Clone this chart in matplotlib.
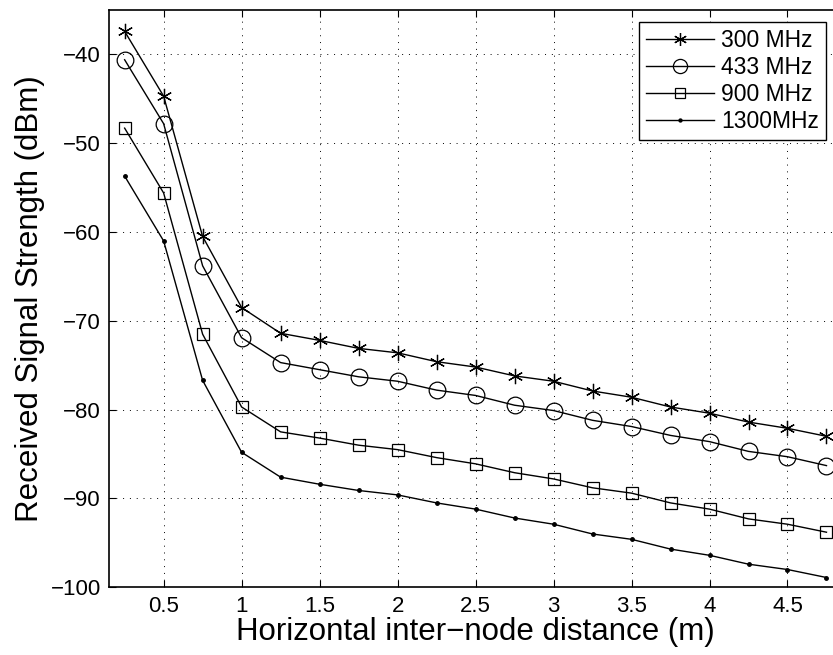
import matplotlib
matplotlib.use("Agg")
import matplotlib.pyplot as plt

plt.rcParams["font.family"] = ["Liberation Sans", "DejaVu Sans"]

distance = [0.25, 0.5, 0.75, 1.0, 1.25, 1.5, 1.75, 2.0, 2.25, 2.5,
            2.75, 3.0, 3.25, 3.5, 3.75, 4.0, 4.25, 4.5, 4.75]
rss_300 = [-37.4, -44.7, -60.5, -68.5, -71.4, -72.2, -73.1, -73.6, -74.6, -75.2,
           -76.2, -76.8, -77.9, -78.6, -79.7, -80.4, -81.4, -82.1, -83.0]
rss_433 = [-40.6, -47.8, -63.8, -71.9, -74.7, -75.5, -76.3, -76.8, -77.8, -78.4,
           -79.5, -80.1, -81.2, -81.9, -82.9, -83.6, -84.7, -85.3, -86.3]
rss_900 = [-48.3, -55.6, -71.5, -79.7, -82.5, -83.2, -84.0, -84.5, -85.4, -86.1,
           -87.1, -87.8, -88.8, -89.4, -90.5, -91.2, -92.3, -92.9, -93.8]
rss_1300 = [-53.7, -61.0, -76.7, -84.8, -87.6, -88.4, -89.1, -89.6, -90.5, -91.2,
            -92.2, -92.9, -94.0, -94.6, -95.7, -96.4, -97.4, -98.0, -98.9]
labels = ["300 MHz", "433 MHz", "900 MHz", "1300MHz"]
x_ticks = [0.5, 1, 1.5, 2, 2.5, 3, 3.5, 4, 4.5]
y_ticks = [-100, -90, -80, -70, -60, -50, -40]

fig = plt.figure(figsize=(8.33, 6.55), dpi=100)
ax = fig.add_axes([0.1309, 0.1034, 0.880, 0.8813])

# matlab-style asterisk: 6 spokes
asterisk = (6, 2, 0)
ax.plot(distance, rss_300, color="black", lw=1, marker=asterisk, ms=11,
        mfc="none", mec="black", mew=0.9, label=labels[0])
ax.plot(distance, rss_433, color="black", lw=1, marker="o", ms=12,
        mfc="none", mec="black", mew=0.9, label=labels[1])
ax.plot(distance, rss_900, color="black", lw=1, marker="s", ms=9,
        mfc="none", mec="black", mew=0.9, label=labels[2])
ax.plot(distance, rss_1300, color="black", lw=1, marker=".", ms=5,
        mfc="black", mec="black", label=labels[3])

ax.set_xlim(0.15, 4.85)
ax.set_ylim(-100, -35)
ax.set_xticks(x_ticks)
ax.set_xticklabels([f"{t:g}" for t in x_ticks])
ax.set_yticks(y_ticks)
ax.set_yticklabels([f"\u2212{abs(t)}" for t in y_ticks])
ax.tick_params(direction="in", top=True, right=True, labelsize=16, length=5,
               width=0.8, pad=6)
ax.grid(True, linestyle=(0, (1, 6)), color="black", lw=0.7)
for spine in ax.spines.values():
    spine.set_linewidth(1.2)

ax.set_xlabel("Horizontal inter\u2212node distance (m)", fontsize=22.5, labelpad=0)
ax.set_ylabel("Received Signal Strength (dBm)", fontsize=22.5, labelpad=4)

leg = ax.legend(loc="upper right", bbox_to_anchor=(0.9916, 0.9664),
                bbox_transform=fig.transFigure, borderaxespad=0, fontsize=16.5,
                fancybox=False, framealpha=1, edgecolor="black",
                handlelength=3.0, handletextpad=0.3, labelspacing=0.18,
                borderpad=0.3, markerscale=0.85)
leg.get_frame().set_linewidth(1.0)

fig.savefig("out.png", dpi=100)
